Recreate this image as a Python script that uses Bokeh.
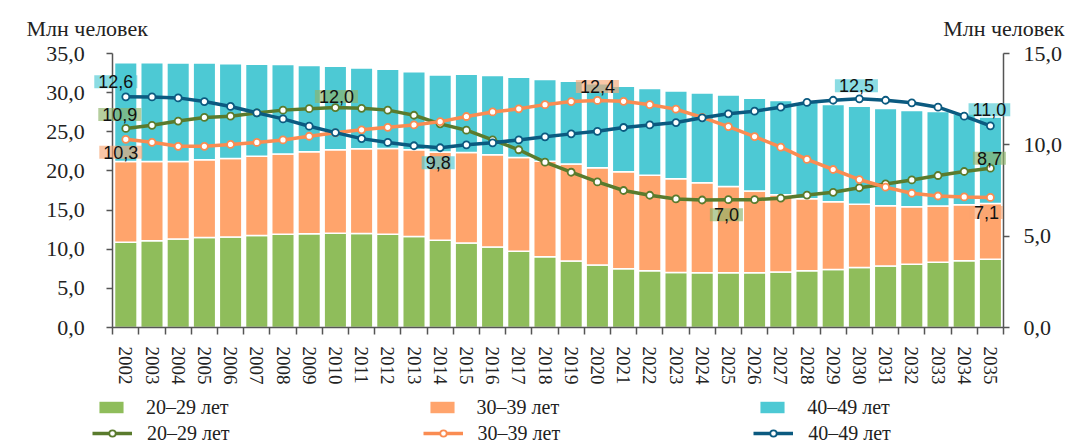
from bokeh.plotting import figure
from bokeh.models import (Range1d, LinearAxis, FixedTicker, ColumnDataSource,
                          Legend, LegendItem, Label)
from bokeh.embed import file_html
from bokeh.resources import INLINE

# ---------------- data ----------------
years = list(range(2002, 2036))
age_20_29 = [10.9, 11.07, 11.3, 11.5, 11.57, 11.75, 11.9, 11.98, 12.04, 12.0,
             11.9, 11.62, 11.15, 10.8, 10.27, 9.73, 9.05, 8.5, 7.97, 7.5,
             7.24, 7.04, 6.98, 7.0, 7.0, 7.08, 7.25, 7.4, 7.65, 7.86,
             8.08, 8.32, 8.54, 8.72]
age_30_39 = [10.3, 10.14, 9.92, 9.92, 10.02, 10.13, 10.27, 10.47, 10.66, 10.82,
             10.96, 11.09, 11.27, 11.55, 11.8, 11.97, 12.2, 12.37, 12.43, 12.38,
             12.2, 11.95, 11.5, 11.0, 10.45, 9.87, 9.2, 8.65, 8.1, 7.68,
             7.35, 7.2, 7.15, 7.12]
age_40_49 = [12.63, 12.62, 12.57, 12.37, 12.1, 11.75, 11.42, 11.02, 10.67, 10.34,
             10.13, 9.95, 9.84, 10.0, 10.11, 10.27, 10.44, 10.6, 10.74, 10.95,
             11.09, 11.22, 11.48, 11.7, 11.84, 12.06, 12.32, 12.44, 12.52, 12.44,
             12.3, 12.06, 11.57, 11.04]
series_names = ["20–29 лет", "30–39 лет", "40–49 лет"]
left_ticks = [0, 5, 10, 15, 20, 25, 30, 35]
right_ticks = [0, 5, 10, 15]
axis_title = "Млн человек"

# years whose values are annotated on the lines
labeled_20_29 = [2002, 2010, 2025, 2035]
labeled_30_39 = [2002, 2020, 2035]
labeled_40_49 = [2002, 2014, 2030, 2035]

# ---------------- style / layout ----------------
W, H = 1074, 445
AX_LEFT, AX_RIGHT, AX_TOP, AX_BOTTOM = 112.2, 1003.0, 53.0, 327.0  # axes box in px
bar_colors = ["#8FBD5B", "#FFA46C", "#4DC9D4"]
line_colors = ["#5A7B2D", "#FA8C52", "#0B5A80"]
label_fill = ["#8DB46A", "#F7A877", "#4DC9D4"]
label_offsets = {
    0: [(-6, 14), (1, 11), (-2, -15), (-1, 10)],
    1: [(-5, -13), (0, 14), (-4, -15)],
    2: [(-10, 15), (-2, -15), (-3, 13), (-1, 16)],
}
SERIF = "Liberation Serif"
SANS = "Liberation Sans"

src = ColumnDataSource(dict(year=years, a=age_20_29, b=age_30_39, c=age_40_49))

# the plotting frame fills the canvas; axes are pinned with fixed_location
x_lo, x_hi = years[0] - 0.5, years[-1] + 0.5
ppx = (AX_RIGHT - AX_LEFT) / (x_hi - x_lo)
y_lo, y_hi = left_ticks[0], left_ticks[-1]
ppy = (AX_BOTTOM - AX_TOP) / (y_hi - y_lo)
r_lo, r_hi = right_ticks[0], right_ticks[-1]
ppr = (AX_BOTTOM - AX_TOP) / (r_hi - r_lo)

p = figure(width=W, height=H, output_backend="svg", toolbar_location=None,
           x_range=Range1d(x_lo - AX_LEFT / ppx, x_hi + (W - AX_RIGHT) / ppx),
           y_range=Range1d(y_lo - (H - AX_BOTTOM) / ppy, y_hi + AX_TOP / ppy),
           x_axis_location=None, y_axis_location=None, min_border=0)
p.extra_y_ranges = {"right": Range1d(r_lo - (H - AX_BOTTOM) / ppr, r_hi + AX_TOP / ppr)}
p.outline_line_color = None
p.xgrid.visible = False
p.ygrid.visible = False
p.background_fill_color = "white"
p.border_fill_color = "white"

def fmt(v):
    return f"{v:.1f}".replace(".", ",")

# axes
left_axis = LinearAxis(ticker=FixedTicker(ticks=left_ticks), fixed_location=x_lo,
                       bounds=(y_lo, y_hi),
                       major_label_overrides={t: fmt(t) for t in left_ticks})
right_axis = LinearAxis(y_range_name="right", ticker=FixedTicker(ticks=right_ticks),
                        fixed_location=x_hi, bounds=(r_lo, r_hi),
                        major_label_overrides={t: fmt(t) for t in right_ticks})
for ax, standoff in ((left_axis, 22), (right_axis, 14)):
    ax.major_tick_out = 6
    ax.major_tick_in = 0
    ax.minor_tick_out = 0
    ax.minor_tick_in = 0
    ax.axis_line_color = "#555555"
    ax.axis_line_width = 1.5
    ax.major_tick_line_color = "#555555"
    ax.major_tick_line_width = 1.5
    ax.major_label_text_font = SERIF
    ax.major_label_text_font_size = "22px"
    ax.major_label_text_color = "#222222"
    ax.major_label_standoff = standoff
p.add_layout(left_axis, "left")
p.add_layout(right_axis, "right")

bounds = [y - 0.5 for y in years] + [x_hi]
x_axis = LinearAxis(ticker=FixedTicker(ticks=years, minor_ticks=bounds),
                    fixed_location=y_lo, bounds=(x_lo, x_hi),
                    major_label_overrides={y: str(y) for y in years},
                    major_label_orientation="vertical")
x_axis.major_tick_out = 0
x_axis.major_tick_in = 0
x_axis.minor_tick_out = 7
x_axis.minor_tick_in = 0
x_axis.minor_tick_line_color = "#555555"
x_axis.minor_tick_line_width = 1.5
x_axis.axis_line_color = "#555555"
x_axis.axis_line_width = 1.5
x_axis.major_label_text_font = SERIF
x_axis.major_label_text_font_size = "19px"
x_axis.major_label_text_color = "#222222"
x_axis.major_label_standoff = 12
p.add_layout(x_axis, "below")

# stacked bars (left axis)
bars = p.vbar_stack(["a", "b", "c"], x="year", width=0.86, source=src,
                    color=bar_colors, line_color="white", line_width=1.5)

# lines (right axis)
line_items = []
for key, col in zip(["a", "b", "c"], line_colors):
    ln = p.line("year", key, source=src, y_range_name="right",
                line_color=col, line_width=3.5)
    sc = p.scatter("year", key, source=src, y_range_name="right", marker="circle",
                   size=7, fill_color="white", line_color=col, line_width=1.8)
    line_items.append([ln, sc])

# value labels
series = [age_20_29, age_30_39, age_40_49]
labeled = [labeled_20_29, labeled_30_39, labeled_40_49]
for si in range(3):
    for k, yr in enumerate(labeled[si]):
        v = series[si][years.index(yr)]
        dx, dy = label_offsets[si][k]
        p.add_layout(Label(x=yr, y=v, y_range_name="right", x_offset=dx, y_offset=dy,
                           text=fmt(v), text_align="center", text_baseline="middle",
                           text_font=SANS, text_font_size="18px", text_color="#111111",
                           background_fill_color=label_fill[si], background_fill_alpha=0.65,
                           padding=dict(left=4, right=4, top=0, bottom=0)))

# axis titles
p.add_layout(Label(x=26, y=H - 28, x_units="screen", y_units="screen", text=axis_title,
                   text_font=SERIF, text_font_size="22px", text_color="#222222",
                   text_baseline="alphabetic", text_align="left"))
p.add_layout(Label(x=1064, y=H - 28, x_units="screen", y_units="screen", text=axis_title,
                   text_font=SERIF, text_font_size="22px", text_color="#222222",
                   text_baseline="alphabetic", text_align="right"))

# legends (one row each, under the x axis)
common = dict(orientation="horizontal", padding=0, margin=0, border_line_color=None,
              background_fill_alpha=0, label_text_font=SERIF,
              label_text_font_size="20px", label_text_color="#222222")
leg_bars = Legend(items=[LegendItem(label=n, renderers=[r]) for n, r in zip(series_names, bars)],
                  location=(95, 25), glyph_width=32, glyph_height=16, label_height=26,
                  label_standoff=19, spacing=197, **common)
leg_lines = Legend(items=[LegendItem(label=n, renderers=rs) for n, rs in zip(series_names, line_items)],
                   location=(92, 0), glyph_width=40, glyph_height=16, label_height=24,
                   label_standoff=15, spacing=193, **common)
p.add_layout(leg_bars)
p.add_layout(leg_lines)

open("out.html", "w").write(file_html(p, INLINE))
